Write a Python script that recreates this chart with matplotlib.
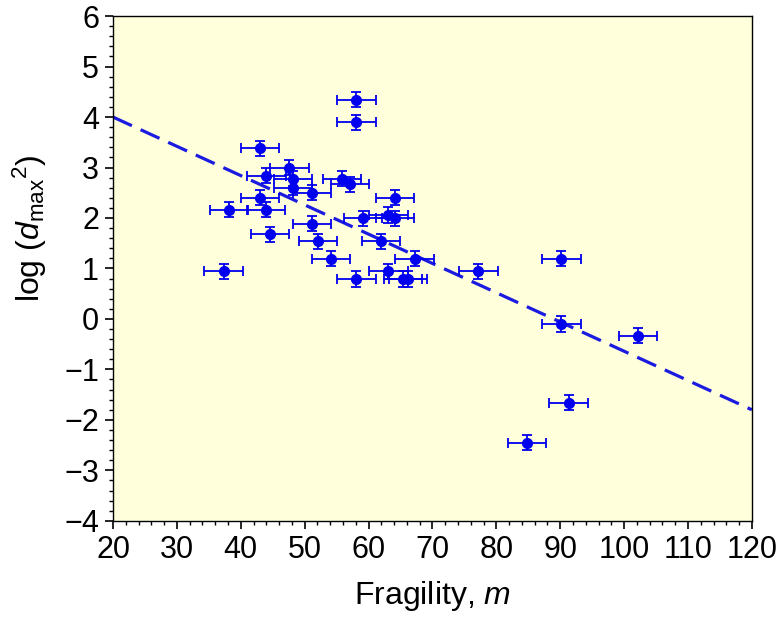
import numpy as np
import matplotlib
matplotlib.use("Agg")
import matplotlib.pyplot as plt
from matplotlib.ticker import MultipleLocator

plt.rcParams['font.family'] = ['Liberation Sans', 'DejaVu Sans']
plt.rcParams['mathtext.fontset'] = 'custom'
plt.rcParams['mathtext.rm'] = 'Liberation Sans'
plt.rcParams['mathtext.it'] = 'Liberation Sans:italic'

# fragility m and log(d_max^2)
fragility = [58.1, 58.1, 43.0, 47.6, 44.0, 48.2, 48.2, 51.1, 55.8, 57.1,
             64.1, 43.0, 38.2, 43.9, 59.1, 63.1, 64.1, 51.1, 44.6, 52.1,
             62.0, 54.1, 67.2, 37.3, 63.1, 58.1, 65.4, 66.2,
             77.2, 90.2, 90.2, 102.2, 91.3, 84.8]
log_d2 = [4.34, 3.90, 3.38, 3.00, 2.84, 2.78, 2.60, 2.50, 2.78, 2.67,
          2.40, 2.40, 2.16, 2.16, 1.99, 2.06, 1.99, 1.89, 1.68, 1.54,
          1.54, 1.19, 1.19, 0.94, 0.94, 0.79, 0.79, 0.79,
          0.94, 1.19, -0.10, -0.33, -1.66, -2.45]
x_err = 3.0
y_err = 0.15

# dashed trend line
fit_x = [20, 120]
fit_y = [4.0, -1.8]

fig = plt.figure(figsize=(7.81, 6.2), dpi=100)
ax = fig.add_axes([0.1447, 0.160, 0.818, 0.814])
ax.set_facecolor('#ffffdc')

ax.plot(fit_x, fit_y, '--', color='#1a1ae0', lw=2.3, dashes=(6.5, 3), zorder=2)
ax.errorbar(fragility, log_d2, xerr=x_err, yerr=y_err, fmt='o', color='#0000ee',
            ms=7, elinewidth=1.3, capsize=3.8, capthick=1.3, zorder=3)

ax.set_xlim(20, 120)
ax.set_ylim(-4, 6)
ax.xaxis.set_major_locator(MultipleLocator(10))
ax.xaxis.set_minor_locator(MultipleLocator(2))
ax.yaxis.set_major_locator(MultipleLocator(1))
ax.yaxis.set_minor_locator(MultipleLocator(0.2))
ax.tick_params(which='major', direction='out', length=6, width=1.2, labelsize=22,
               colors='black', pad=4)
ax.tick_params(which='minor', direction='out', length=3, width=1.0)
for sp in ax.spines.values():
    sp.set_linewidth(1.0)

ax.set_xlabel('Fragility, $m$', fontsize=23, labelpad=10)
ax.set_ylabel(r'log ($d_{\mathrm{max}}$$^{2}$)', fontsize=23)
ax.yaxis.set_label_coords(-0.1, 0.58)

fig.savefig('out.png', dpi=100)
